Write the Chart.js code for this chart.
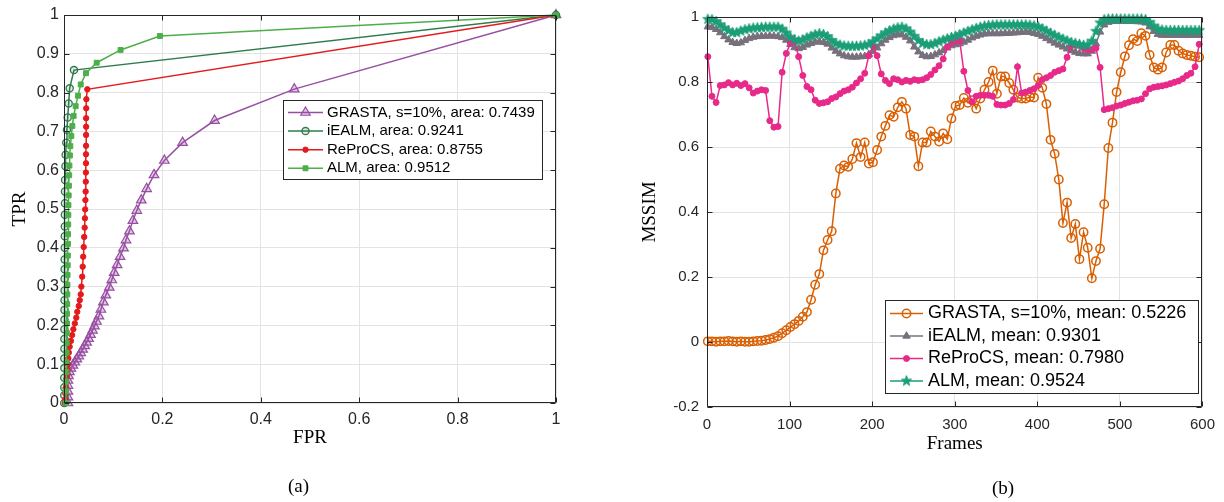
<!DOCTYPE html>
<html>
<head>
<meta charset="utf-8">
<script src="https://cdn.jsdelivr.net/npm/chart.js@4.4.1/dist/chart.umd.min.js"></script>
<style>
  body { margin: 0; background: #fff; width: 1224px; height: 502px; position: relative; overflow: hidden; }
  canvas { position: absolute; top: 0; }
  #rocCanvas { left: 0; }
  #ssimCanvas { left: 612px; }
  .caption { position: absolute; font: 19px "Liberation Serif", "Times New Roman", serif; color: #000; line-height: 22px; }
</style>
</head>
<body>
<canvas id="rocCanvas" width="612" height="502"></canvas>
<canvas id="ssimCanvas" width="612" height="502"></canvas>
<div class="caption" style="left:288px; top:475px;">(a)</div>
<div class="caption" style="left:992px; top:477px;">(b)</div>
<script>
// === (a) ROC curves: FPR / TPR pairs ===
const grastaFpr = [0.008, 0.008, 0.008, 0.008, 0.008, 0.009, 0.011, 0.014, 0.018, 0.022,
  0.026, 0.030, 0.034, 0.038, 0.042, 0.046, 0.050, 0.054, 0.058, 0.062,
  0.066, 0.071, 0.075, 0.080, 0.085, 0.092, 0.097, 0.102, 0.108, 0.114,
  0.121, 0.126, 0.133, 0.140, 0.148, 0.157, 0.168, 0.183, 0.204, 0.241,
  0.306, 0.468, 1];
const grastaTpr = [0, 0.015, 0.03, 0.045, 0.058, 0.07, 0.08, 0.089, 0.097, 0.105,
  0.113, 0.121, 0.129, 0.138, 0.147, 0.156, 0.166, 0.176, 0.187, 0.198,
  0.21, 0.224, 0.241, 0.26, 0.278, 0.298, 0.317, 0.336, 0.356, 0.377,
  0.399, 0.42, 0.443, 0.47, 0.496, 0.523, 0.552, 0.588, 0.625, 0.671,
  0.728, 0.809, 1];

const iealmFpr = [0.0005, 0.0005, 0.0006, 0.0006, 0.0007, 0.0007, 0.0008, 0.0008, 0.0009, 0.001,
  0.001, 0.0011, 0.0012, 0.0012, 0.0013, 0.0014, 0.0015, 0.0016, 0.0017, 0.0018,
  0.0019, 0.002, 0.0022, 0.003, 0.0034, 0.0047, 0.006, 0.0075, 0.0095, 0.0115,
  0.0203, 1];
const iealmTpr = [0, 0.02, 0.04, 0.065, 0.09, 0.115, 0.14, 0.165, 0.19, 0.215,
  0.24, 0.265, 0.29, 0.32, 0.345, 0.37, 0.40, 0.43, 0.455, 0.485,
  0.515, 0.545, 0.575, 0.61, 0.64, 0.671, 0.704, 0.736, 0.772, 0.811,
  0.858, 1];

const reprocsFpr = [0.002, 0.0025, 0.003, 0.0038, 0.0048, 0.0058, 0.0068, 0.0078, 0.0088, 0.0098,
  0.0115, 0.014, 0.0165, 0.019, 0.022, 0.025, 0.027, 0.030, 0.032, 0.034,
  0.0353, 0.037, 0.038, 0.039, 0.040, 0.041, 0.042, 0.0425, 0.043, 0.0435,
  0.044, 0.0443, 0.0445, 0.0447, 0.0447, 0.0448, 0.0449, 0.045, 0.045, 0.0452,
  0.0455, 0.0474, 1];
const reprocsTpr = [0, 0.01, 0.025, 0.04, 0.055, 0.07, 0.085, 0.1, 0.115, 0.13,
  0.145, 0.16, 0.175, 0.19, 0.205, 0.22, 0.235, 0.25, 0.265, 0.28,
  0.300, 0.3256, 0.3514, 0.3771, 0.402, 0.428, 0.452, 0.476, 0.499, 0.523,
  0.545, 0.5705, 0.594, 0.618, 0.641, 0.663, 0.691, 0.712, 0.734, 0.7595,
  0.783, 0.8085, 1];

const almFpr = [0.004, 0.0042, 0.0045, 0.0048, 0.005, 0.0052, 0.0055, 0.0058, 0.006, 0.0062,
  0.0065, 0.0068, 0.007, 0.0072, 0.0075, 0.0078, 0.008, 0.0082, 0.0085, 0.0088,
  0.009, 0.0095, 0.010, 0.0105, 0.011, 0.012, 0.0129, 0.0149, 0.017, 0.0196,
  0.0237, 0.0285, 0.034, 0.0447, 0.0664, 0.115, 0.195, 1];
const almTpr = [0, 0.03, 0.055, 0.08, 0.105, 0.13, 0.155, 0.18, 0.205, 0.23,
  0.255, 0.28, 0.305, 0.33, 0.355, 0.38, 0.41, 0.435, 0.46, 0.485,
  0.51, 0.535, 0.56, 0.587, 0.612, 0.638, 0.662, 0.688, 0.714, 0.74,
  0.765, 0.792, 0.821, 0.85, 0.877, 0.91, 0.946, 1];

const rocLabels = ["GRASTA, s=10%, area: 0.7439", "iEALM, area: 0.9241", "ReProCS, area: 0.8755", "ALM, area: 0.9512"];

// === (b) MSSIM per frame, one sample every 5 frames ===
const frames = [];
for (let f = 1; f <= 596; f += 5) frames.push(f);

const grastaSsim = [0.002, 0.002, 0.001, 0.002, 0.002, 0.003, 0.002, 0.001, 0.002, 0.001,
  0.001, 0.002, 0.003, 0.004, 0.006, 0.009, 0.013, 0.018, 0.027, 0.036,
  0.046, 0.055, 0.065, 0.078, 0.092, 0.13, 0.176, 0.209, 0.282, 0.314,
  0.341, 0.457, 0.533, 0.543, 0.539, 0.563, 0.612, 0.569, 0.614, 0.549,
  0.553, 0.591, 0.632, 0.665, 0.698, 0.693, 0.722, 0.739, 0.718, 0.637,
  0.632, 0.541, 0.614, 0.614, 0.648, 0.632, 0.617, 0.642, 0.624, 0.688,
  0.726, 0.729, 0.751, 0.736, 0.744, 0.718, 0.749, 0.776, 0.80, 0.835,
  0.764, 0.817, 0.817, 0.797, 0.776, 0.752, 0.749, 0.749, 0.754, 0.752,
  0.813, 0.782, 0.732, 0.622, 0.579, 0.50, 0.366, 0.429, 0.32, 0.363,
  0.255, 0.338, 0.29, 0.196, 0.249, 0.287, 0.424, 0.597, 0.675, 0.769,
  0.83, 0.879, 0.913, 0.932, 0.926, 0.95, 0.942, 0.883, 0.845, 0.838,
  0.845, 0.891, 0.914, 0.914, 0.896, 0.888, 0.883, 0.881, 0.878, 0.876];

const iealmSsim = [0.970, 0.968, 0.962, 0.952, 0.940, 0.930, 0.922, 0.919, 0.921, 0.928,
  0.934, 0.938, 0.940, 0.941, 0.941, 0.942, 0.941, 0.940, 0.937, 0.929,
  0.916, 0.906, 0.903, 0.907, 0.914, 0.919, 0.923, 0.924, 0.922, 0.917,
  0.905, 0.895, 0.887, 0.881, 0.878, 0.877, 0.877, 0.878, 0.879, 0.885,
  0.894, 0.905, 0.918, 0.929, 0.937, 0.943, 0.947, 0.945, 0.938, 0.927,
  0.908, 0.893, 0.882, 0.878, 0.879, 0.884, 0.890, 0.897, 0.905, 0.912,
  0.915, 0.918, 0.923, 0.929, 0.936, 0.941, 0.945, 0.948, 0.949, 0.949,
  0.949, 0.949, 0.950, 0.950, 0.951, 0.952, 0.953, 0.954, 0.953, 0.950,
  0.947, 0.941, 0.934, 0.927, 0.920, 0.914, 0.908, 0.902, 0.897, 0.892,
  0.888, 0.887, 0.887, 0.895, 0.918, 0.954, 0.976, 0.984, 0.987, 0.987,
  0.987, 0.987, 0.987, 0.987, 0.986, 0.985, 0.982, 0.970, 0.956, 0.947,
  0.944, 0.944, 0.944, 0.944, 0.944, 0.944, 0.944, 0.944, 0.944, 0.944];

const reprocsSsim = [0.878, 0.756, 0.737, 0.789, 0.791, 0.798, 0.791, 0.796, 0.789, 0.795,
  0.782, 0.766, 0.772, 0.776, 0.774, 0.681, 0.661, 0.663, 0.830, 0.888,
  0.92, 0.925, 0.878, 0.82, 0.786, 0.776, 0.744, 0.734, 0.736, 0.739,
  0.749, 0.754, 0.764, 0.772, 0.776, 0.784, 0.797, 0.81, 0.827, 0.881,
  0.911, 0.881, 0.825, 0.805, 0.795, 0.81, 0.807, 0.80, 0.805, 0.802,
  0.807, 0.805, 0.807, 0.813, 0.823, 0.837, 0.85, 0.871, 0.908, 0.921,
  0.926, 0.928, 0.833, 0.774, 0.739, 0.756, 0.759, 0.759, 0.759, 0.756,
  0.731, 0.729, 0.729, 0.734, 0.746, 0.847, 0.766, 0.769, 0.774, 0.779,
  0.789, 0.807, 0.813, 0.82, 0.83, 0.835, 0.84, 0.876, 0.911, 0.915,
  0.912, 0.905, 0.90, 0.90, 0.904, 0.845, 0.715, 0.718, 0.721, 0.726,
  0.729, 0.734, 0.738, 0.742, 0.744, 0.748, 0.764, 0.779, 0.784, 0.786,
  0.788, 0.791, 0.795, 0.799, 0.803, 0.81, 0.82, 0.827, 0.847, 0.916];

const almSsim = [0.993, 0.992, 0.986, 0.976, 0.966, 0.958, 0.952, 0.952, 0.957, 0.961,
  0.964, 0.966, 0.967, 0.968, 0.969, 0.969, 0.969, 0.969, 0.963, 0.951,
  0.938, 0.930, 0.926, 0.930, 0.936, 0.941, 0.946, 0.949, 0.946, 0.940,
  0.928, 0.919, 0.914, 0.911, 0.910, 0.910, 0.910, 0.911, 0.913, 0.916,
  0.924, 0.933, 0.942, 0.951, 0.958, 0.963, 0.967, 0.969, 0.964, 0.954,
  0.941, 0.928, 0.919, 0.915, 0.915, 0.919, 0.924, 0.929, 0.933, 0.937,
  0.941, 0.946, 0.951, 0.956, 0.961, 0.965, 0.969, 0.972, 0.974, 0.975,
  0.976, 0.976, 0.976, 0.976, 0.976, 0.976, 0.976, 0.976, 0.975, 0.973,
  0.970, 0.964, 0.957, 0.950, 0.944, 0.938, 0.932, 0.927, 0.922, 0.919,
  0.916, 0.913, 0.914, 0.926, 0.956, 0.982, 0.992, 0.994, 0.994, 0.994,
  0.994, 0.994, 0.994, 0.994, 0.994, 0.994, 0.992, 0.984, 0.972, 0.963,
  0.960, 0.959, 0.959, 0.959, 0.959, 0.959, 0.959, 0.959, 0.959, 0.959];

const ssimLabels = ["GRASTA, s=10%, mean: 0.5226", "iEALM, mean: 0.9301", "ReProCS, mean: 0.7980", "ALM, mean: 0.9524"];

// === Shared look ===
const SANS = '"Liberation Sans", Arial, Helvetica, sans-serif';
const SERIF = '"Liberation Serif", "Times New Roman", serif';
const AXIS_COLOR = "#262626";
const GRID_COLOR = "#e3e3e3";

function pairs(xs, ys) {
  return xs.map((x, i) => ({ x, y: ys[i] }));
}

// tick text like the original: 0, 0.2, 1, -0.2 (no trailing zeros)
function tickText(v) {
  const r = Math.round(v * 10) / 10;
  return r === 0 ? "0" : String(r);
}

// filled five-point star, used as the ALM marker
function makeStar(color, r) {
  const c = document.createElement("canvas");
  const s = Math.ceil(r * 2 + 2);
  c.width = s;
  c.height = s;
  const g = c.getContext("2d");
  g.fillStyle = color;
  g.strokeStyle = color;
  g.lineWidth = 0.8;
  g.beginPath();
  for (let i = 0; i < 10; i++) {
    const rad = i % 2 === 0 ? r : r * 0.42;
    const a = -Math.PI / 2 + (i * Math.PI) / 5;
    g.lineTo(s / 2 + rad * Math.cos(a), s / 2 + rad * Math.sin(a));
  }
  g.closePath();
  g.fill();
  g.stroke();
  return c;
}

// === Plot frame: full box with inward tick marks ===
const framePlugin = {
  id: "frame",
  afterDatasetsDraw(chart) {
    const { ctx, chartArea: a, scales } = chart;
    const L = Math.round(a.left) + 0.5, R = Math.round(a.right) - 0.5;
    const T = Math.round(a.top) + 0.5, B = Math.round(a.bottom) - 0.5;
    ctx.save();
    ctx.strokeStyle = AXIS_COLOR;
    ctx.lineWidth = 1;
    ctx.beginPath();
    ctx.rect(L, T, R - L, B - T);
    scales.x.ticks.forEach((t) => {
      const px = Math.round(scales.x.getPixelForValue(t.value)) + 0.5;
      ctx.moveTo(px, B); ctx.lineTo(px, B - 5);
      ctx.moveTo(px, T); ctx.lineTo(px, T + 5);
    });
    scales.y.ticks.forEach((t) => {
      const py = Math.round(scales.y.getPixelForValue(t.value)) + 0.5;
      ctx.moveTo(L, py); ctx.lineTo(L + 5, py);
      ctx.moveTo(R, py); ctx.lineTo(R - 5, py);
    });
    ctx.stroke();
    ctx.restore();
  },
};

// === Boxed legend inside the plot ===
const boxLegendPlugin = {
  id: "boxLegend",
  afterDraw(chart, args, opts) {
    const { ctx } = chart;
    ctx.save();
    ctx.fillStyle = "#fff";
    ctx.fillRect(opts.left, opts.top, opts.width, opts.height);
    ctx.strokeStyle = AXIS_COLOR;
    ctx.lineWidth = 1;
    ctx.strokeRect(opts.left + 0.5, opts.top + 0.5, opts.width, opts.height);
    chart.data.datasets.forEach((ds, i) => {
      const y = opts.rowTop + i * opts.rowGap;
      ctx.strokeStyle = ds.borderColor;
      ctx.lineWidth = ds.borderWidth;
      ctx.beginPath();
      ctx.moveTo(opts.lineFrom, y);
      ctx.lineTo(opts.lineTo, y);
      ctx.stroke();
      ctx.fillStyle = ds.pointBackgroundColor;
      ctx.strokeStyle = ds.pointBorderColor;
      ctx.lineWidth = ds.pointBorderWidth;
      Chart.helpers.drawPoint(ctx, {
        pointStyle: ds.pointStyle,
        radius: ds.pointRadius,
        borderWidth: ds.pointBorderWidth,
        rotation: 0,
      }, (opts.lineFrom + opts.lineTo) / 2, y);
      ctx.fillStyle = "#000";
      ctx.font = opts.font;
      ctx.textAlign = "left";
      ctx.textBaseline = "middle";
      ctx.fillText(ds.label, opts.textX, y);
    });
    ctx.restore();
  },
};

function axis(min, max, step, font, tickPad, title, titlePad, size, horizontal) {
  return {
    type: "linear",
    min,
    max,
    ticks: { stepSize: step, padding: tickPad, color: AXIS_COLOR, font, maxRotation: 0, autoSkip: false, callback: tickText },
    grid: { color: GRID_COLOR, lineWidth: 1, drawTicks: false },
    border: { display: false },
    title: { display: true, text: title, color: "#000", font: { family: SERIF, size: 19 }, padding: titlePad },
    afterFit: (s) => {
      if (horizontal) s.height = size;
      else s.width = size;
    },
  };
}

// === Chart (a) ===
new Chart(document.getElementById("rocCanvas").getContext("2d"), {
  type: "line",
  data: {
    datasets: [
      {
        label: rocLabels[0], data: pairs(grastaFpr, grastaTpr),
        borderColor: "#984EA3", borderWidth: 1.5,
        pointStyle: "triangle", pointRadius: 5.5, pointBorderWidth: 1.2,
        pointBorderColor: "#984EA3", pointBackgroundColor: "rgba(152,78,163,0.3)",
        order: 4, clip: false,
      },
      {
        label: rocLabels[1], data: pairs(iealmFpr, iealmTpr),
        borderColor: "#2E7B4C", borderWidth: 1.5,
        pointStyle: "circle", pointRadius: 3.6, pointBorderWidth: 1.3,
        pointBorderColor: "#2E7B4C", pointBackgroundColor: "rgba(46,123,76,0.15)",
        order: 3, clip: false,
      },
      {
        label: rocLabels[2], data: pairs(reprocsFpr, reprocsTpr),
        borderColor: "#E41A1C", borderWidth: 1.5,
        pointStyle: "circle", pointRadius: 2.7, pointBorderWidth: 1,
        pointBorderColor: "#E41A1C", pointBackgroundColor: "#E41A1C",
        order: 2, clip: false,
      },
      {
        label: rocLabels[3], data: pairs(almFpr, almTpr),
        borderColor: "#4DAF4A", borderWidth: 1.5,
        pointStyle: "rect", pointRadius: 3.5, pointBorderWidth: 1,
        pointBorderColor: "#4DAF4A", pointBackgroundColor: "#4DAF4A",
        order: 1, clip: false,
      },
    ],
  },
  options: {
    responsive: false,
    animation: false,
    devicePixelRatio: 1,
    events: [],
    layout: { autoPadding: false, padding: { left: 0, top: 15, right: 56, bottom: 0 } },
    elements: { line: { tension: 0 } },
    scales: {
      x: axis(0, 1, 0.2, { family: SANS, size: 16 }, 7, "FPR", { top: 0, bottom: 53 }, 99, true),
      y: axis(0, 1, 0.1, { family: SANS, size: 16 }, 5, "TPR", { top: 9, bottom: 0 }, 64, false),
    },
    plugins: {
      legend: { display: false },
      tooltip: { enabled: false },
      boxLegend: {
        left: 283, top: 100, width: 259, height: 79,
        rowTop: 112.5, rowGap: 18.6, lineFrom: 288, lineTo: 323, textX: 327,
        font: `15px ${SANS}`,
      },
    },
  },
  plugins: [framePlugin, boxLegendPlugin],
});

// === Chart (b) ===
const star = makeStar("#1B9E77", 5.5);

new Chart(document.getElementById("ssimCanvas").getContext("2d"), {
  type: "line",
  data: {
    datasets: [
      {
        label: ssimLabels[0], data: pairs(frames, grastaSsim),
        borderColor: "#D95F02", borderWidth: 1.5,
        pointStyle: "circle", pointRadius: 4.2, pointBorderWidth: 1.5,
        pointBorderColor: "#D95F02", pointBackgroundColor: "rgba(255,255,255,0)",
        order: 4, clip: false,
      },
      {
        label: ssimLabels[1], data: pairs(frames, iealmSsim),
        borderColor: "#77707C", borderWidth: 1.5,
        pointStyle: "triangle", pointRadius: 4.3, pointBorderWidth: 1,
        pointBorderColor: "#77707C", pointBackgroundColor: "#77707C",
        order: 3, clip: false,
      },
      {
        label: ssimLabels[2], data: pairs(frames, reprocsSsim),
        borderColor: "#E7298A", borderWidth: 1.5,
        pointStyle: "circle", pointRadius: 3, pointBorderWidth: 1,
        pointBorderColor: "#E7298A", pointBackgroundColor: "#E7298A",
        order: 2, clip: false,
      },
      {
        label: ssimLabels[3], data: pairs(frames, almSsim),
        borderColor: "#1B9E77", borderWidth: 1.5,
        pointStyle: star, pointRadius: 5.5, pointBorderWidth: 1,
        pointBorderColor: "#1B9E77", pointBackgroundColor: "#1B9E77",
        order: 1, clip: false,
      },
    ],
  },
  options: {
    responsive: false,
    animation: false,
    devicePixelRatio: 1,
    events: [],
    layout: { autoPadding: false, padding: { left: 0, top: 12.5, right: 17, bottom: 0 } },
    elements: { line: { tension: 0 } },
    scales: {
      x: axis(0, 600, 100, { family: SANS, size: 15 }, 9, "Frames", { top: 0, bottom: 47 }, 95, true),
      y: axis(-0.2, 1, 0.2, { family: SANS, size: 15 }, 8, "MSSIM", { top: 27, bottom: 0 }, 95, false),
    },
    plugins: {
      legend: { display: false },
      tooltip: { enabled: false },
      boxLegend: {
        left: 273, top: 300, width: 313, height: 93,
        rowTop: 313.5, rowGap: 22.5, lineFrom: 278, lineTo: 311, textX: 316,
        font: `18px ${SANS}`,
      },
    },
  },
  plugins: [framePlugin, boxLegendPlugin],
});
</script>
</body>
</html>
